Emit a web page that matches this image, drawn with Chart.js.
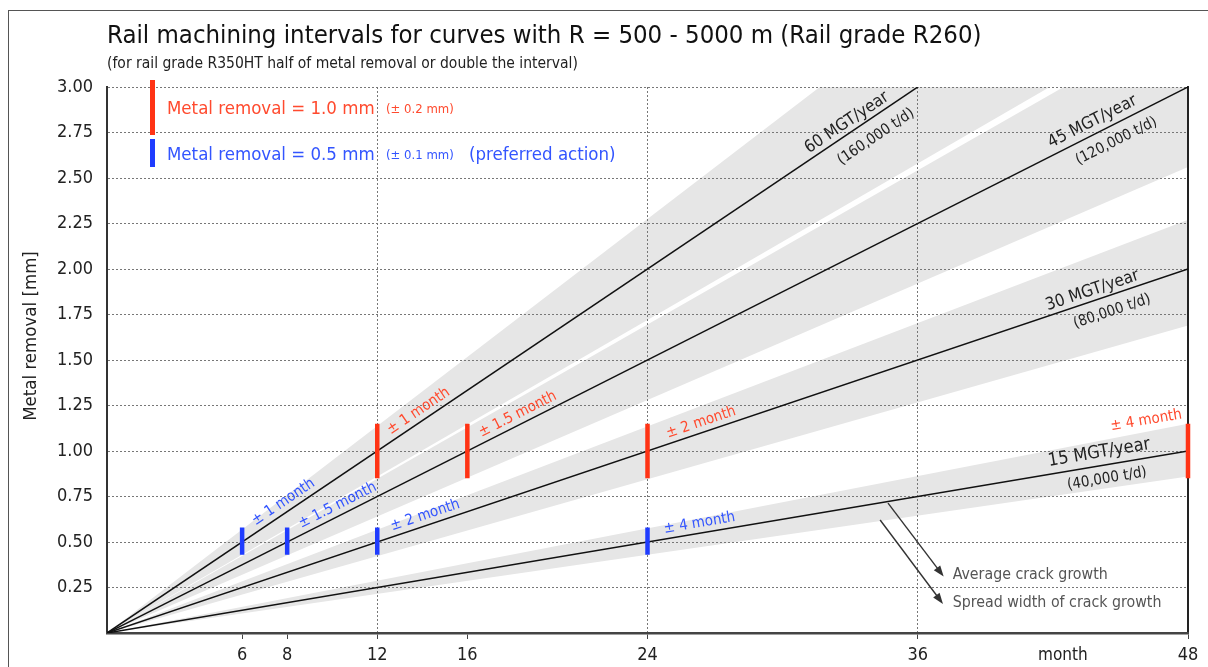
<!DOCTYPE html>
<html>
<head>
<meta charset="utf-8">
<script src="https://cdn.jsdelivr.net/npm/chart.js@4.4.1/dist/chart.umd.min.js"></script>
<style>
  html, body { margin: 0; padding: 0; background: #fff; }
  canvas { display: block; background: #fff; }
</style>
</head>
<body>
<canvas id="railChart" width="1208" height="667"></canvas>
<script>
// Rail machining intervals - average crack growth lines with spread bands
const months = [0, 48];
const xTicks = [6, 8, 12, 16, 24, 36, 48];
const xGridMonths = [12, 24, 36];
const loadNames = ['60 MGT/year', '45 MGT/year', '30 MGT/year', '15 MGT/year'];
const loadTonnes = ['(160,000 t/d)', '(120,000 t/d)', '(80,000 t/d)', '(40,000 t/d)'];
const avgAt48 = [4.0, 3.0, 2.0, 1.0];
const spreadHighAt48 = [4.55, 3.39, 2.27, 1.15];
const spreadLowAt48 = [3.44, 2.56, 1.69, 0.86];
const redMonths = [12, 16, 24, 48];
const redRange = [0.85, 1.15];
const redLabels = ['± 1 month', '± 1.5 month', '± 2 month', '± 4 month'];
const blueMonths = [6, 8, 12, 24];
const blueRange = [0.43, 0.58];
const blueLabels = ['± 1 month', '± 1.5 month', '± 2 month', '± 4 month'];

const FONT = '"DejaVu Sans Condensed", "DejaVu Sans", sans-serif';
const RED = '#ff3314';
const BLUE = '#1f3cff';
const RED_TXT = '#ff4a2e';
const BLUE_TXT = '#3355ff';
const BAND = '#e6e6e6';

function barPoints(list, range) {
  const pts = [];
  list.forEach(m => {
    pts.push({x: m, y: range[0]}, {x: m, y: range[1]}, {x: m, y: null});
  });
  return pts;
}

const datasets = [];
datasets.push({
  data: barPoints(redMonths, redRange),
  borderColor: RED, borderWidth: 4.5, borderCapStyle: 'butt',
  pointRadius: 0, spanGaps: false, clip: false
});
datasets.push({
  data: barPoints(blueMonths, blueRange),
  borderColor: BLUE, borderWidth: 4.5, borderCapStyle: 'butt',
  pointRadius: 0, spanGaps: false, clip: false
});
avgAt48.forEach(v => {
  datasets.push({
    data: [{x: months[0], y: 0}, {x: months[1], y: v}],
    borderColor: '#111', borderWidth: 1.5, pointRadius: 0
  });
});
spreadHighAt48.forEach((v, i) => {
  datasets.push({
    data: [{x: months[0], y: 0}, {x: months[1], y: v}],
    borderWidth: 0, pointRadius: 0, fill: '+1', backgroundColor: BAND
  });
  datasets.push({
    data: [{x: months[0], y: 0}, {x: months[1], y: spreadLowAt48[i]}],
    borderWidth: 0, pointRadius: 0, fill: false
  });
});

function alongLine(chart, i, month, text, perp, align, color, size) {
  const {ctx, scales: {x, y}} = chart;
  const x0 = x.getPixelForValue(0), y0 = y.getPixelForValue(0);
  const x1 = x.getPixelForValue(48), y1 = y.getPixelForValue(avgAt48[i]);
  const ang = Math.atan2(y1 - y0, x1 - x0);
  ctx.save();
  ctx.translate(x.getPixelForValue(month), y.getPixelForValue(month * avgAt48[i] / 48));
  ctx.rotate(ang);
  ctx.font = size + 'px ' + FONT;
  ctx.fillStyle = color;
  ctx.textAlign = align;
  ctx.textBaseline = 'middle';
  ctx.fillText(text, 0, perp);
  ctx.restore();
}

function arrow(ctx, x1, y1, x2, y2) {
  const a = Math.atan2(y2 - y1, x2 - x1);
  ctx.beginPath();
  ctx.moveTo(x1, y1);
  ctx.lineTo(x2 - 8 * Math.cos(a), y2 - 8 * Math.sin(a));
  ctx.stroke();
  ctx.beginPath();
  ctx.moveTo(x2, y2);
  ctx.lineTo(x2 - 11 * Math.cos(a) + 4 * Math.sin(a), y2 - 11 * Math.sin(a) - 4 * Math.cos(a));
  ctx.lineTo(x2 - 11 * Math.cos(a) - 4 * Math.sin(a), y2 - 11 * Math.sin(a) + 4 * Math.cos(a));
  ctx.closePath();
  ctx.fill();
}

// frame, titles and the little legend
const backdrop = {
  id: 'backdrop',
  beforeDraw(chart) {
    const {ctx} = chart;
    ctx.save();
    ctx.strokeStyle = '#555';
    ctx.lineWidth = 1;
    ctx.strokeRect(8.5, 10.5, chart.width + 10, chart.height + 10);

    ctx.fillStyle = '#111';
    ctx.textBaseline = 'alphabetic';
    ctx.font = '25.5px ' + FONT;
    ctx.fillText('Rail machining intervals for curves with R = 500 - 5000 m (Rail grade R260)', 107, 43);
    ctx.fillStyle = '#222';
    ctx.font = '15.5px ' + FONT;
    ctx.fillText('(for rail grade R350HT half of metal removal or double the interval)', 107, 68);

    ctx.save();
    ctx.translate(31, 336);
    ctx.rotate(-Math.PI / 2);
    ctx.textAlign = 'center';
    ctx.textBaseline = 'middle';
    ctx.font = '18.5px ' + FONT;
    ctx.fillText('Metal removal [mm]', 0, 0);
    ctx.restore();

    ctx.textBaseline = 'middle';
    ctx.font = '17px ' + FONT;
    ctx.fillText('month', 1038, 656);
    ctx.restore();
  },
  afterDraw(chart) {
    const {ctx} = chart;
    ctx.save();
    ctx.fillStyle = RED;
    ctx.fillRect(150, 80, 5, 55);
    ctx.fillStyle = BLUE;
    ctx.fillRect(150, 139, 5, 28);
    ctx.textBaseline = 'middle';
    ctx.fillStyle = RED_TXT;
    ctx.font = '18.5px ' + FONT;
    ctx.fillText('Metal removal = 1.0 mm', 167, 109);
    ctx.font = '13px ' + FONT;
    ctx.fillText('(± 0.2 mm)', 386, 110);
    ctx.fillStyle = BLUE_TXT;
    ctx.font = '18.5px ' + FONT;
    ctx.fillText('Metal removal = 0.5 mm', 167, 155);
    ctx.font = '13px ' + FONT;
    ctx.fillText('(± 0.1 mm)', 386, 156);
    ctx.font = '18.5px ' + FONT;
    ctx.fillText('(preferred action)', 469, 155);
    ctx.restore();
  }
};

// labels along the lines and the explanatory arrows
const annotate = {
  id: 'annotate',
  afterDatasetsDraw(chart) {
    const {ctx, scales: {x, y}} = chart;
    const nameAt = [33.1, 44.0, 43.9, 44.15];
    const namePerp = [-10, -12, -10, -13];
    const tonAt = [33.7, 44.5, 44.4, 44.3];
    const tonPerp = [18, 16, 16, 14];
    loadNames.forEach((t, i) => {
      alongLine(chart, i, nameAt[i], t, namePerp[i], 'center', '#222', i === 3 ? 18 : 17);
      alongLine(chart, i, tonAt[i], loadTonnes[i], tonPerp[i], 'center', '#222', 15);
    });
    const blueAt = [6.75, 8.75, 12.75, 24.8];
    blueLabels.forEach((t, i) => alongLine(chart, i, blueAt[i], t, -10, 'left', BLUE_TXT, 15));
    const redAt = [12.75, 16.75, 25.0];
    redAt.forEach((m, i) => alongLine(chart, i, m, redLabels[i], -10, 'left', RED_TXT, 15));
    alongLine(chart, 3, 48, redLabels[3], -37, 'right', RED_TXT, 15);

    ctx.save();
    ctx.strokeStyle = '#333';
    ctx.fillStyle = '#333';
    ctx.lineWidth = 1.4;
    arrow(ctx, x.getPixelForValue(34.68), y.getPixelForValue(0.714), x.getPixelForValue(37.15), y.getPixelForValue(0.31));
    arrow(ctx, x.getPixelForValue(34.33), y.getPixelForValue(0.621), x.getPixelForValue(37.12), y.getPixelForValue(0.16));
    ctx.fillStyle = '#555';
    ctx.font = '15.8px ' + FONT;
    ctx.textBaseline = 'middle';
    ctx.fillText('Average crack growth', x.getPixelForValue(37.55), y.getPixelForValue(0.32));
    ctx.fillText('Spread width of crack growth', x.getPixelForValue(37.55), y.getPixelForValue(0.168));
    ctx.restore();
  }
};

const railCtx = document.getElementById('railChart').getContext('2d');
new Chart(railCtx, {
  type: 'line',
  data: { datasets },
  options: {
    responsive: false,
    animation: false,
    devicePixelRatio: 1,
    layout: { padding: { top: 87, right: 20, left: 0, bottom: 0 } },
    plugins: {
      legend: { display: false },
      tooltip: { enabled: false },
      filler: { drawTime: 'beforeDraw' }
    },
    scales: {
      y: {
        type: 'linear', min: 0, max: 3,
        afterFit: s => { s.width = 107; },
        ticks: {
          stepSize: 0.25, padding: 14, color: '#222',
          font: { family: FONT, size: 18 },
          callback: v => v === 0 ? '' : v.toFixed(2)
        },
        grid: {
          drawTicks: false,
          color: c => c.tick && c.tick.value === 0 ? 'transparent' : '#777'
        },
        border: { color: '#333', width: 2, dash: [2, 2] }
      },
      yRight: {
        type: 'linear', axis: 'y', position: 'right', min: 0, max: 3,
        afterFit: s => { s.width = 0; },
        ticks: { display: false },
        grid: { display: false },
        border: { display: true, color: '#222', width: 2 }
      },
      x: {
        type: 'linear', min: 0, max: 48,
        afterBuildTicks: s => { s.ticks = xTicks.map(v => ({ value: v })); },
        afterFit: s => { s.height = 34; },
        ticks: {
          autoSkip: false, maxRotation: 0, padding: 6, color: '#222',
          font: { family: FONT, size: 18 }
        },
        grid: {
          color: c => c.tick && xGridMonths.includes(c.tick.value) ? '#777' : 'transparent',
          tickColor: '#444', tickLength: 6
        },
        border: { color: '#444', width: 2.5, dash: [2, 2] }
      }
    }
  },
  plugins: [backdrop, annotate]
});
</script>
</body>
</html>
